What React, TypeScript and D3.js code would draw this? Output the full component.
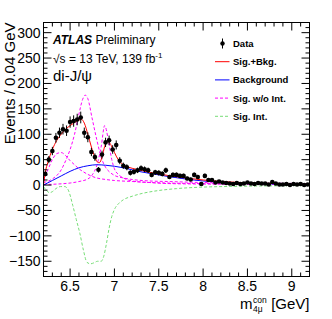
import * as d3 from 'd3';
import React, { ReactElement } from 'react';

const W = 332;
const H = 319;

// data: events per 0.04 GeV bin, bins from 6.20 to 9.20
const BIN_LO = 6.2;
const BIN_W = 0.04;
const counts = [
  22, 50, 67, 93, 103, 110, 107, 124, 126, 129, 133, 103, 94, 65, 55, 30, 60, 84, 88, 70,
  79, 48, 38, 35, 24, 26, 29, 33, 31, 29, 20, 25, 24, 22, 29, 16, 20, 20, 18, 18,
  13, 11, 20, 16, 2, 18, 10, 10, 5, 7, 5, 4, 3, 2, 4, 2, 3, 5, 3, 2,
  4, 3, 3, 1, 6, 3, 1, 1, 2, 0, 2, 1, 2, 0, 1,
];

// fit curves
const sbX = [6.2, 6.22, 6.25, 6.3, 6.35, 6.4, 6.45, 6.5, 6.55, 6.6, 6.63, 6.66, 6.7, 6.74, 6.78, 6.81, 6.83, 6.86, 6.89, 6.92, 6.95, 6.98, 7.02, 7.06, 7.1, 7.2, 7.3, 7.4, 7.6, 7.8, 8.0, 8.3, 8.6, 9.0, 9.2];
const sbY = [0, 25, 45, 70, 88, 100, 110, 117, 123, 128, 129, 122, 100, 75, 55, 45, 44, 55, 76, 86, 82, 72, 57, 46, 40, 33, 29, 25, 19, 14, 10, 6, 4, 2, 1.5];

const bkgX = [6.2, 6.3, 6.4, 6.5, 6.6, 6.7, 6.8, 6.9, 7.0, 7.1, 7.2, 7.3, 7.4, 7.6, 7.8, 8.0, 8.3, 8.6, 9.0, 9.2];
const bkgY = [0, 9, 18, 27, 34, 38, 40, 39, 37, 34, 30, 26, 23, 17, 12, 8, 5, 3, 1.5, 1];

const sig1X = [6.2, 6.25, 6.3, 6.35, 6.4, 6.45, 6.5, 6.55, 6.6, 6.65, 6.7, 6.75, 6.8, 6.9, 7.0, 7.2, 7.4, 7.6, 8.0, 8.5, 9.2];
const sig1Y = [8, 30, 50, 62, 64, 58, 48, 40, 32, 26, 21, 17, 14, 11, 9, 7, 5, 4, 3, 2, 1];

const sig2X = [6.2, 6.3, 6.4, 6.45, 6.5, 6.55, 6.6, 6.64, 6.67, 6.7, 6.75, 6.8, 6.85, 6.9, 6.95, 7.0, 7.1, 7.2, 7.4, 7.6, 8.0, 8.5, 9.2];
const sig2Y = [5, 12, 30, 48, 70, 100, 140, 168, 177, 170, 130, 90, 55, 35, 25, 19, 14, 11, 8, 7, 5, 4, 3];

const sig3X = [6.2, 6.5, 6.6, 6.7, 6.75, 6.8, 6.85, 6.89, 6.93, 6.97, 7.0, 7.05, 7.1, 7.2, 7.4, 7.6, 8.0, 9.2];
const sig3Y = [1, 4, 7, 12, 20, 38, 75, 117, 90, 50, 32, 20, 14, 8, 5, 3, 2, 1];

const intX = [6.2, 6.23, 6.27, 6.3, 6.34, 6.39, 6.44, 6.48, 6.53, 6.57, 6.61, 6.65, 6.69, 6.73, 6.77, 6.81, 6.85, 6.88, 6.91, 6.94, 6.97, 7.0, 7.05, 7.1, 7.2, 7.3, 7.45, 7.7, 8.0, 8.4, 8.8, 9.2];
const intY = [-3, -10, -15, -13, -7, -3, -3, -10, -40, -68, -95, -128, -152, -155, -153, -150, -150, -140, -115, -85, -62, -48, -36, -29, -22, -17, -12, -7, -4, -2.5, -1.5, -1];

const xTicks = [6.5, 7, 7.5, 8, 8.5, 9];
const yTicks = [-150, -100, -50, 0, 50, 100, 150, 200, 250, 300];

const legendItems = [
  { label: 'Data', kind: 'data', color: '#000' },
  { label: 'Sig.+Bkg.', kind: 'line', color: '#ff0000' },
  { label: 'Background', kind: 'line', color: '#0000ff' },
  { label: 'Sig. w/o Int.', kind: 'dash', color: '#ff00ff' },
  { label: 'Sig. Int.', kind: 'dash', color: '#77dd77' },
];

const FONT = 'Liberation Sans, Arial, Helvetica, sans-serif';

const App = (): ReactElement => {
  const L = 43.5, R = 309.5, T = 22.5, B = 276.5;
  const x = d3.scaleLinear().domain([6.2, 9.2]).range([L, R]);
  const y = d3.scaleLinear().domain([-180, 320]).range([B, T]);

  const line = (xs: number[], ys: number[]) =>
    d3
      .line<number>()
      .x((d, i) => x(xs[i]))
      .y((d) => y(d))
      .curve(d3.curveMonotoneX)(ys) as string;

  const minorX = d3.range(62, 93).map((v) => v / 10);
  const minorY = d3.range(-18, 33).map((v) => v * 10);

  return (
    <div style={{ position: 'absolute', left: 0, top: 0 }}>
      <svg width={W} height={H} style={{ display: 'block', background: '#fff' }} fontFamily={FONT}>
        <defs>
          <clipPath id="frame">
            <rect x={L} y={T} width={R - L} height={B - T} />
          </clipPath>
        </defs>

        <g clipPath="url(#frame)" fill="none" strokeWidth={1}>
          <path d={line(sig1X, sig1Y)} stroke="#ff00ff" strokeDasharray="3,2" />
          <path d={line(sig2X, sig2Y)} stroke="#ff00ff" strokeDasharray="3,2" />
          <path d={line(sig3X, sig3Y)} stroke="#ff00ff" strokeDasharray="3,2" />
          <path d={line(intX, intY)} stroke="#77dd77" strokeDasharray="3,2" />
          <path d={line(bkgX, bkgY)} stroke="#0000ff" />
          <path d={line(sbX, sbY)} stroke="#ff0000" />
        </g>

        <g clipPath="url(#frame)">
          {counts.map((n, i) => {
            const cx = x(BIN_LO + BIN_W * (i + 0.5));
            const e = Math.sqrt(Math.max(n, 1));
            return (
              <g key={i}>
                <line x1={cx} x2={cx} y1={y(n - e)} y2={y(n + e)} stroke="#000" strokeWidth={1} />
                <circle cx={cx} cy={y(n)} r={2.3} fill="#000" />
              </g>
            );
          })}
        </g>

        {/* frame and ticks */}
        <rect x={L} y={T} width={R - L} height={B - T} fill="none" stroke="#000" strokeWidth={1} />
        <g stroke="#000" strokeWidth={1}>
          {minorX.map((v) => {
            const major = Math.abs(v * 2 - Math.round(v * 2)) < 1e-6;
            const len = major ? 8 : 4;
            return (
              <g key={'x' + v}>
                <line x1={x(v)} x2={x(v)} y1={B} y2={B - len} />
                <line x1={x(v)} x2={x(v)} y1={T} y2={T + len} />
              </g>
            );
          })}
          {minorY.map((v) => {
            const major = v % 50 === 0;
            const len = major ? 8 : 4;
            return (
              <g key={'y' + v}>
                <line x1={L} x2={L + len} y1={y(v)} y2={y(v)} />
                <line x1={R} x2={R - len} y1={y(v)} y2={y(v)} />
              </g>
            );
          })}
        </g>

        <g fontSize={14} fill="#000">
          {xTicks.map((v) => (
            <text key={v} x={x(v)} y={290.5} textAnchor="middle">
              {v}
            </text>
          ))}
          {yTicks.map((v) => (
            <text key={v} x={L - 3} y={y(v) + 5} textAnchor="end">
              {v < 0 ? '\u2212' + Math.abs(v) : v}
            </text>
          ))}
        </g>

        <text transform={`translate(14.5, ${T}) rotate(-90)`} textAnchor="end" fontSize={15}>
          Events / 0.04 GeV
        </text>
        <g fontSize={15}>
          <text x={240} y={308.5}>m</text>
          <text x={253} y={302.5} fontSize={8.5}>con</text>
          <text x={253} y={311.5} fontSize={8.5}>4μ</text>
          <text x={R} y={308.5} textAnchor="end">[GeV]</text>
        </g>

        <text x={53} y={44} fontSize={12}>
          <tspan fontWeight="bold" fontStyle="italic">ATLAS</tspan>
          <tspan> Preliminary</tspan>
        </text>
        <text x={53} y={63} fontSize={12}>
          √s = 13 TeV, 139 fb<tspan fontSize={8} dy={-5}>-1</tspan>
        </text>
        <text x={53} y={81} fontSize={15}>
          di-J/ψ
        </text>

        <g fontSize={9.5} fontWeight="bold">
          {legendItems.map((d, i) => {
            const ly = 43.5 + i * 18.2;
            return (
              <g key={d.label}>
                {d.kind === 'data' ? (
                  <>
                    <line x1={222.5} x2={222.5} y1={ly - 5} y2={ly + 5} stroke="#000" />
                    <circle cx={222.5} cy={ly} r={2.2} fill="#000" />
                  </>
                ) : (
                  <line
                    x1={215}
                    x2={229.5}
                    y1={ly}
                    y2={ly}
                    stroke={d.color}
                    strokeWidth={1}
                    strokeDasharray={d.kind === 'dash' ? '3,2' : undefined}
                  />
                )}
                <text x={233} y={ly + 3.5}>
                  {d.label}
                </text>
              </g>
            );
          })}
        </g>
      </svg>
    </div>
  );
};

export default App;
